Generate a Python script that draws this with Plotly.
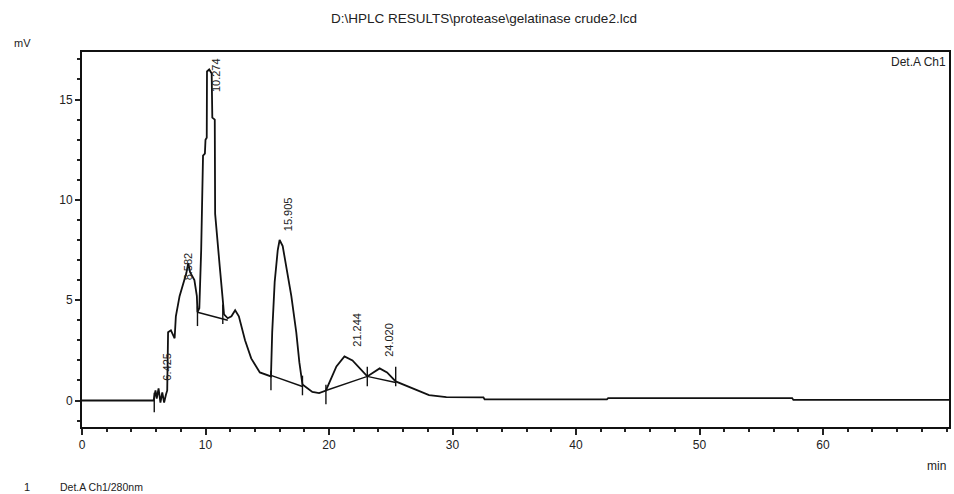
import plotly.graph_objects as go

# ---- data ----
time_min = [0, 5.8, 5.95, 6.05, 6.2, 6.35, 6.5, 6.65, 6.8, 6.9, 6.97, 7.2, 7.5, 7.6, 7.9, 8.2, 8.45, 8.6, 8.75, 9.1, 9.3, 9.35,
            9.5, 9.65, 9.8, 9.95, 10.0, 10.1, 10.12, 10.3, 10.5, 10.55, 10.75, 10.78, 10.9, 11.15, 11.4, 11.5, 11.8,
            12.1, 12.4, 12.7, 13.2, 13.7, 14.4, 15.3, 15.4, 15.6, 15.85, 16.0, 16.25, 16.55, 16.95, 17.35, 17.6, 17.85,
            18.65, 19.2, 19.75, 20.6, 21.25, 21.9, 23.1, 24.1, 24.7, 25.4, 26.5, 28.1, 29.5, 32.5, 32.6,
            42.5, 42.6, 57.5, 57.6, 70.2]
signal_mv = [0, 0, 0.5, 0.1, 0.6, -0.1, 0.4, -0.1, 0.3, 0.5, 3.4, 3.5, 3.1, 4.2, 5.2, 5.9, 6.35, 6.85, 6.4, 6.0, 5.2, 4.4,
             4.6, 7.5, 12.2, 12.3, 13.0, 13.1, 16.4, 16.5, 16.3, 14.1, 14.0, 9.3, 8.3, 6.7, 5.0, 4.3, 4.1,
             4.2, 4.5, 4.2, 3.0, 2.1, 1.4, 1.2, 3.4, 5.9, 7.5, 8.0, 7.7, 6.7, 5.2, 3.4, 1.9, 0.8,
             0.43, 0.37, 0.5, 1.7, 2.2, 2.0, 1.2, 1.6, 1.4, 0.95, 0.67, 0.27, 0.17, 0.16, 0.06,
             0.06, 0.12, 0.12, 0.03, 0.03]

# integration baselines (start/end of peaks)
base_t = [[9.35, 11.8], [15.3, 17.85], [19.75, 23.1, 25.4]]
base_mv = [[4.4, 4.0], [1.25, 0.7], [0.5, 1.2, 0.9]]

# peak start/end markers
mark_t = [5.85, 9.35, 11.4, 15.3, 17.85, 19.75, 23.1, 25.4]
mark_mv = [-0.1, 4.2, 4.3, 1.0, 0.75, 0.3, 1.2, 1.2]

# peak retention-time labels
peak_labels = ["6.425", "8.582", "10.274", "15.905", "21.244", "24.020"]
label_t = [6.9, 8.6, 10.9, 16.7, 22.3, 24.9]
label_mv = [1.7, 6.7, 16.2, 9.3, 3.55, 3.0]

x_ticks = [0, 10, 20, 30, 40, 50, 60]
y_ticks = [0, 5, 10, 15]

FONT = "Liberation Sans, Arial, sans-serif"
fig = go.Figure()

fig.add_trace(go.Scatter(x=time_min, y=signal_mv, mode="lines",
                         line=dict(color="#111111", width=1.8), hoverinfo="skip", showlegend=False))
for bt, bm in zip(base_t, base_mv):
    fig.add_trace(go.Scatter(x=bt, y=bm, mode="lines",
                             line=dict(color="#111111", width=1.4), hoverinfo="skip", showlegend=False))
fig.add_trace(go.Scatter(x=mark_t, y=mark_mv, mode="markers",
                         marker=dict(symbol="line-ns", size=14, line=dict(color="#111111", width=1.4)),
                         hoverinfo="skip", showlegend=False))

for lab, lt, lm in zip(peak_labels, label_t, label_mv):
    fig.add_annotation(x=lt, y=lm, xref="x", yref="y", text=lab, textangle=-90, showarrow=False,
                       font=dict(family=FONT, size=11, color="#222222"), xanchor="center", yanchor="middle")

W, H = 954, 494
L, R, T, B = 82, 3, 52, 67
pw, ph = W - L - R, H - T - B

def px(xp):
    return (xp - L) / pw

def py(yp):
    return (H - B - yp) / ph

texts = [
    ("D:\\HPLC RESULTS\\protease\\gelatinase crude2.lcd", 485, 18, "center", 13.5),
    ("mV", 22, 43, "center", 11),
    ("Det.A Ch1", 950, 62, "right", 12),
    ("min", 950, 466, "right", 12),
    ("1", 27, 487, "center", 11),
    ("Det.A Ch1/280nm", 58, 487, "left", 10.5),
]
for t, xp, yp, anc, sz in texts:
    fig.add_annotation(x=px(xp), y=py(yp), xref="paper", yref="paper", text=t, showarrow=False,
                       xanchor=anc, yanchor="middle", font=dict(family=FONT, size=sz, color="#222222"))

fig.update_layout(
    width=W, height=H, margin=dict(l=L, r=R, t=T, b=B),
    paper_bgcolor="white", plot_bgcolor="white",
    font=dict(family=FONT, size=12, color="#222222"),
    xaxis=dict(range=[0, 70.2], tickvals=x_ticks, ticks="outside", ticklen=6, tickwidth=1.5,
               tickcolor="#222222", showline=True, linecolor="#111111", linewidth=2, mirror=True,
               showgrid=False, zeroline=False, tickfont=dict(size=12),
               minor=dict(dtick=2, ticks="outside", ticklen=3, tickcolor="#222222", showgrid=False)),
    yaxis=dict(range=[-1.32, 17.37], tickvals=y_ticks, ticks="outside", ticklen=5, tickwidth=1.5,
               tickcolor="#222222", showline=True, linecolor="#111111", linewidth=2, mirror=True,
               showgrid=False, zeroline=False, tickfont=dict(size=12),
               minor=dict(dtick=1, ticks="outside", ticklen=3, tickcolor="#222222", showgrid=False)),
)

fig.write_html("out.html")
